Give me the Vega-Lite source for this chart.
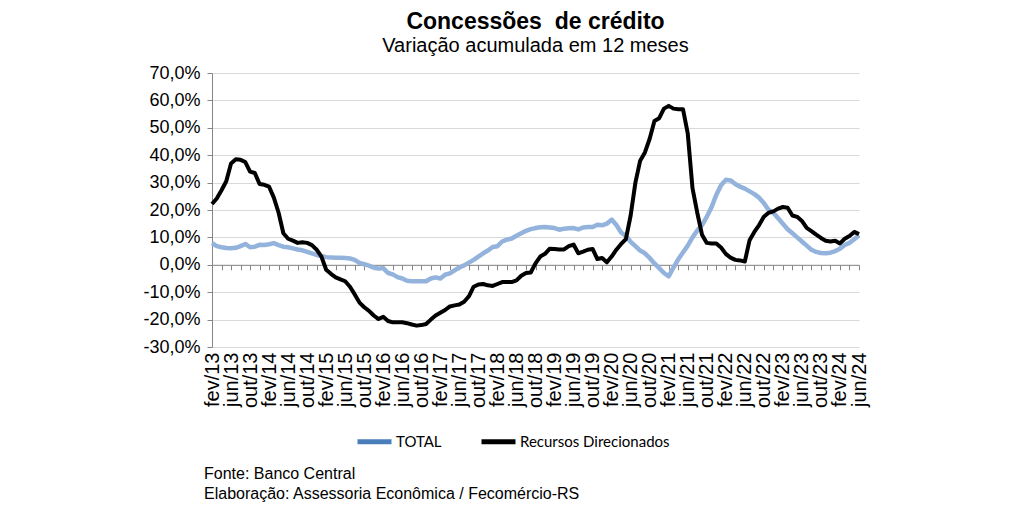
{
 "$schema": "https://vega.github.io/schema/vega-lite/v6.json",
 "background": "white",
 "padding": {"left": 142, "top": 11, "right": 10, "bottom": 5},
 "config": {"view": {"stroke": null}, "font": "Liberation Sans"},
 "title": {"text": ["Fonte: Banco Central", "Elaboração: Assessoria Econômica / Fecomércio-RS"], "orient": "bottom", "anchor": "start", "frame": "group", "fontSize": 16, "fontWeight": "normal", "font": "Liberation Sans", "lineHeight": 20, "color": "black", "offset": 14, "dx": -8},
 "vconcat": [
  {
   "width": 647,
   "height": 274,
   "title": {"text": "Concessões \u00a0de crédito", "subtitle": "Variação acumulada em 12 meses", "fontSize": 23, "subtitleFontSize": 20, "font": "Liberation Sans", "subtitleFont": "Liberation Sans", "fontWeight": "bold", "color": "black", "subtitleColor": "black", "anchor": "middle", "frame": "group", "offset": 8, "subtitlePadding": 2},
   "data": {"values": [
    {"m":"fev/13","TOTAL":7.9,"Recursos Direcionados":22.2},
    {"m":"mar/13","TOTAL":6.8,"Recursos Direcionados":24.2},
    {"m":"abr/13","TOTAL":6.4,"Recursos Direcionados":27.2},
    {"m":"mai/13","TOTAL":6.1,"Recursos Direcionados":30.5},
    {"m":"jun/13","TOTAL":6.0,"Recursos Direcionados":37.0},
    {"m":"jul/13","TOTAL":6.2,"Recursos Direcionados":38.5},
    {"m":"ago/13","TOTAL":6.8,"Recursos Direcionados":38.3},
    {"m":"set/13","TOTAL":7.6,"Recursos Direcionados":37.5},
    {"m":"out/13","TOTAL":6.4,"Recursos Direcionados":34.0},
    {"m":"nov/13","TOTAL":6.6,"Recursos Direcionados":33.5},
    {"m":"dez/13","TOTAL":7.3,"Recursos Direcionados":29.5},
    {"m":"jan/14","TOTAL":7.2,"Recursos Direcionados":29.2},
    {"m":"fev/14","TOTAL":7.5,"Recursos Direcionados":28.5},
    {"m":"mar/14","TOTAL":7.9,"Recursos Direcionados":24.5},
    {"m":"abr/14","TOTAL":7.2,"Recursos Direcionados":19.0},
    {"m":"mai/14","TOTAL":6.6,"Recursos Direcionados":11.5},
    {"m":"jun/14","TOTAL":6.4,"Recursos Direcionados":9.5},
    {"m":"jul/14","TOTAL":6.0,"Recursos Direcionados":8.8},
    {"m":"ago/14","TOTAL":5.6,"Recursos Direcionados":8.0},
    {"m":"set/14","TOTAL":5.3,"Recursos Direcionados":8.2},
    {"m":"out/14","TOTAL":4.7,"Recursos Direcionados":8.0},
    {"m":"nov/14","TOTAL":4.2,"Recursos Direcionados":7.2},
    {"m":"dez/14","TOTAL":3.6,"Recursos Direcionados":5.5},
    {"m":"jan/15","TOTAL":3.2,"Recursos Direcionados":3.0},
    {"m":"fev/15","TOTAL":2.8,"Recursos Direcionados":-1.8},
    {"m":"mar/15","TOTAL":2.7,"Recursos Direcionados":-3.3},
    {"m":"abr/15","TOTAL":2.6,"Recursos Direcionados":-4.6},
    {"m":"mai/15","TOTAL":2.6,"Recursos Direcionados":-5.3},
    {"m":"jun/15","TOTAL":2.5,"Recursos Direcionados":-6.0},
    {"m":"jul/15","TOTAL":2.3,"Recursos Direcionados":-8.0},
    {"m":"ago/15","TOTAL":1.8,"Recursos Direcionados":-10.8},
    {"m":"set/15","TOTAL":0.7,"Recursos Direcionados":-13.8},
    {"m":"out/15","TOTAL":0.2,"Recursos Direcionados":-15.5},
    {"m":"nov/15","TOTAL":-0.3,"Recursos Direcionados":-16.8},
    {"m":"dez/15","TOTAL":-1.0,"Recursos Direcionados":-18.5},
    {"m":"jan/16","TOTAL":-1.4,"Recursos Direcionados":-19.8},
    {"m":"fev/16","TOTAL":-1.2,"Recursos Direcionados":-19.0},
    {"m":"mar/16","TOTAL":-3.0,"Recursos Direcionados":-20.5},
    {"m":"abr/16","TOTAL":-3.5,"Recursos Direcionados":-21.0},
    {"m":"mai/16","TOTAL":-4.5,"Recursos Direcionados":-21.0},
    {"m":"jun/16","TOTAL":-5.0,"Recursos Direcionados":-21.0},
    {"m":"jul/16","TOTAL":-5.8,"Recursos Direcionados":-21.3},
    {"m":"ago/16","TOTAL":-6.0,"Recursos Direcionados":-21.8},
    {"m":"set/16","TOTAL":-6.0,"Recursos Direcionados":-22.2},
    {"m":"out/16","TOTAL":-6.0,"Recursos Direcionados":-22.0},
    {"m":"nov/16","TOTAL":-6.0,"Recursos Direcionados":-21.6},
    {"m":"dez/16","TOTAL":-5.0,"Recursos Direcionados":-20.0},
    {"m":"jan/17","TOTAL":-4.6,"Recursos Direcionados":-18.5},
    {"m":"fev/17","TOTAL":-5.0,"Recursos Direcionados":-17.5},
    {"m":"mar/17","TOTAL":-3.6,"Recursos Direcionados":-16.5},
    {"m":"abr/17","TOTAL":-3.1,"Recursos Direcionados":-15.2},
    {"m":"mai/17","TOTAL":-2.0,"Recursos Direcionados":-14.8},
    {"m":"jun/17","TOTAL":-1.0,"Recursos Direcionados":-14.5},
    {"m":"jul/17","TOTAL":-0.2,"Recursos Direcionados":-13.5},
    {"m":"ago/17","TOTAL":0.8,"Recursos Direcionados":-11.5},
    {"m":"set/17","TOTAL":1.8,"Recursos Direcionados":-8.0},
    {"m":"out/17","TOTAL":3.0,"Recursos Direcionados":-7.2},
    {"m":"nov/17","TOTAL":4.2,"Recursos Direcionados":-7.0},
    {"m":"dez/17","TOTAL":5.2,"Recursos Direcionados":-7.5},
    {"m":"jan/18","TOTAL":6.5,"Recursos Direcionados":-7.7},
    {"m":"fev/18","TOTAL":6.8,"Recursos Direcionados":-7.0},
    {"m":"mar/18","TOTAL":8.5,"Recursos Direcionados":-6.3},
    {"m":"abr/18","TOTAL":9.2,"Recursos Direcionados":-6.3},
    {"m":"mai/18","TOTAL":9.6,"Recursos Direcionados":-6.3},
    {"m":"jun/18","TOTAL":10.6,"Recursos Direcionados":-5.7},
    {"m":"jul/18","TOTAL":11.5,"Recursos Direcionados":-4.0},
    {"m":"ago/18","TOTAL":12.4,"Recursos Direcionados":-3.0},
    {"m":"set/18","TOTAL":13.0,"Recursos Direcionados":-2.8},
    {"m":"out/18","TOTAL":13.4,"Recursos Direcionados":0.5},
    {"m":"nov/18","TOTAL":13.7,"Recursos Direcionados":3.0},
    {"m":"dez/18","TOTAL":13.8,"Recursos Direcionados":4.0},
    {"m":"jan/19","TOTAL":13.6,"Recursos Direcionados":5.9},
    {"m":"fev/19","TOTAL":13.4,"Recursos Direcionados":5.8},
    {"m":"mar/19","TOTAL":12.8,"Recursos Direcionados":5.6},
    {"m":"abr/19","TOTAL":13.2,"Recursos Direcionados":5.6},
    {"m":"mai/19","TOTAL":13.3,"Recursos Direcionados":6.8},
    {"m":"jun/19","TOTAL":13.4,"Recursos Direcionados":7.4},
    {"m":"jul/19","TOTAL":12.9,"Recursos Direcionados":4.2},
    {"m":"ago/19","TOTAL":13.6,"Recursos Direcionados":4.8},
    {"m":"set/19","TOTAL":13.8,"Recursos Direcionados":5.5},
    {"m":"out/19","TOTAL":13.8,"Recursos Direcionados":5.8},
    {"m":"nov/19","TOTAL":14.6,"Recursos Direcionados":2.1},
    {"m":"dez/19","TOTAL":14.4,"Recursos Direcionados":2.5},
    {"m":"jan/20","TOTAL":15.0,"Recursos Direcionados":0.9},
    {"m":"fev/20","TOTAL":16.5,"Recursos Direcionados":3.0},
    {"m":"mar/20","TOTAL":14.5,"Recursos Direcionados":5.5},
    {"m":"abr/20","TOTAL":11.8,"Recursos Direcionados":7.6},
    {"m":"mai/20","TOTAL":10.5,"Recursos Direcionados":9.4},
    {"m":"jun/20","TOTAL":8.4,"Recursos Direcionados":18.0},
    {"m":"jul/20","TOTAL":6.8,"Recursos Direcionados":30.0},
    {"m":"ago/20","TOTAL":5.2,"Recursos Direcionados":38.0},
    {"m":"set/20","TOTAL":4.2,"Recursos Direcionados":41.0},
    {"m":"out/20","TOTAL":2.5,"Recursos Direcionados":46.0},
    {"m":"nov/20","TOTAL":0.5,"Recursos Direcionados":52.5},
    {"m":"dez/20","TOTAL":-1.2,"Recursos Direcionados":53.5},
    {"m":"jan/21","TOTAL":-3.0,"Recursos Direcionados":57.0},
    {"m":"fev/21","TOTAL":-4.2,"Recursos Direcionados":58.0},
    {"m":"mar/21","TOTAL":-1.0,"Recursos Direcionados":57.0},
    {"m":"abr/21","TOTAL":2.0,"Recursos Direcionados":56.8},
    {"m":"mai/21","TOTAL":4.5,"Recursos Direcionados":56.8},
    {"m":"jun/21","TOTAL":7.0,"Recursos Direcionados":48.0},
    {"m":"jul/21","TOTAL":10.0,"Recursos Direcionados":28.0},
    {"m":"ago/21","TOTAL":12.5,"Recursos Direcionados":19.0},
    {"m":"set/21","TOTAL":14.5,"Recursos Direcionados":11.0},
    {"m":"out/21","TOTAL":17.5,"Recursos Direcionados":8.0},
    {"m":"nov/21","TOTAL":21.0,"Recursos Direcionados":7.8},
    {"m":"dez/21","TOTAL":25.5,"Recursos Direcionados":7.8},
    {"m":"jan/22","TOTAL":29.0,"Recursos Direcionados":6.3},
    {"m":"fev/22","TOTAL":31.0,"Recursos Direcionados":4.0},
    {"m":"mar/22","TOTAL":30.8,"Recursos Direcionados":2.6},
    {"m":"abr/22","TOTAL":29.5,"Recursos Direcionados":1.8},
    {"m":"mai/22","TOTAL":28.5,"Recursos Direcionados":1.6},
    {"m":"jun/22","TOTAL":27.8,"Recursos Direcionados":1.2},
    {"m":"jul/22","TOTAL":26.8,"Recursos Direcionados":9.0},
    {"m":"ago/22","TOTAL":25.8,"Recursos Direcionados":12.0},
    {"m":"set/22","TOTAL":24.5,"Recursos Direcionados":14.5},
    {"m":"out/22","TOTAL":22.5,"Recursos Direcionados":17.5},
    {"m":"nov/22","TOTAL":20.0,"Recursos Direcionados":19.0},
    {"m":"dez/22","TOTAL":19.0,"Recursos Direcionados":19.5},
    {"m":"jan/23","TOTAL":17.0,"Recursos Direcionados":20.5},
    {"m":"fev/23","TOTAL":15.0,"Recursos Direcionados":21.1},
    {"m":"mar/23","TOTAL":13.0,"Recursos Direcionados":20.8},
    {"m":"abr/23","TOTAL":11.5,"Recursos Direcionados":18.0},
    {"m":"mai/23","TOTAL":10.0,"Recursos Direcionados":17.5},
    {"m":"jun/23","TOTAL":8.5,"Recursos Direcionados":16.0},
    {"m":"jul/23","TOTAL":7.0,"Recursos Direcionados":13.5},
    {"m":"ago/23","TOTAL":5.5,"Recursos Direcionados":12.3},
    {"m":"set/23","TOTAL":4.7,"Recursos Direcionados":11.0},
    {"m":"out/23","TOTAL":4.3,"Recursos Direcionados":9.8},
    {"m":"nov/23","TOTAL":4.2,"Recursos Direcionados":8.8},
    {"m":"dez/23","TOTAL":4.4,"Recursos Direcionados":8.5},
    {"m":"jan/24","TOTAL":5.0,"Recursos Direcionados":8.8},
    {"m":"fev/24","TOTAL":5.9,"Recursos Direcionados":7.8},
    {"m":"mar/24","TOTAL":7.2,"Recursos Direcionados":9.5},
    {"m":"abr/24","TOTAL":8.0,"Recursos Direcionados":10.5},
    {"m":"mai/24","TOTAL":9.3,"Recursos Direcionados":12.0},
    {"m":"jun/24","TOTAL":10.8,"Recursos Direcionados":11.2}
   ]},
   "transform": [{"fold": ["TOTAL", "Recursos Direcionados"], "as": ["s", "v"]}],
   "resolve": {"axis": {"x": "independent"}},
   "layer": [
    {
     "transform": [{"filter": "datum.s === 'TOTAL'"}],
     "mark": {"type": "line", "strokeWidth": 4.5, "strokeJoin": "round", "stroke": "#93b3dc"},
     "encoding": {
      "x": {"field": "m", "type": "ordinal", "sort": null, "scale": {"type": "point", "padding": 0},
        "axis": {"values": ["fev/13","jun/13","out/13","fev/14","jun/14","out/14","fev/15","jun/15","out/15","fev/16","jun/16","out/16","fev/17","jun/17","out/17","fev/18","jun/18","out/18","fev/19","jun/19","out/19","fev/20","jun/20","out/20","fev/21","jun/21","out/21","fev/22","jun/22","out/22","fev/23","jun/23","out/23","fev/24","jun/24"],
          "labelAngle": -90, "labelFontSize": 20, "labelFont": "Liberation Sans", "labelColor": "black", "ticks": false, "domain": false, "grid": false, "title": null, "labelPadding": 5, "labelOverlap": false}},
      "y": {"field": "v", "type": "quantitative", "scale": {"domain": [-30, 70], "nice": false, "zero": false},
        "axis": {"values": [-30,-20,-10,0,10,20,30,40,50,60,70], "labelOverlap": false, "grid": true, "gridWidth": 1, "labelExpr": "(datum.value < 0 ? '-' : '') + replace(format(abs(datum.value), '.1f'), '.', ',') + '%'", "labelFontSize": 18, "labelFont": "Liberation Sans", "labelColor": "black", "domainColor": "#868686", "tickColor": "#868686", "tickSize": 5, "gridColor": "#d9d9d9", "title": null, "labelPadding": 7}}
     }
    },
    {
     "transform": [{"filter": "datum.s !== 'TOTAL'"}],
     "mark": {"type": "line", "strokeWidth": 4, "strokeJoin": "round"},
     "encoding": {
      "x": {"field": "m", "type": "ordinal", "sort": null, "scale": {"type": "point", "padding": 0},
        "axis": {"orient": "top", "offset": -191.8, "values": ["fev/13","abr/13","jun/13","ago/13","out/13","dez/13","fev/14","abr/14","jun/14","ago/14","out/14","dez/14","fev/15","abr/15","jun/15","ago/15","out/15","dez/15","fev/16","abr/16","jun/16","ago/16","out/16","dez/16","fev/17","abr/17","jun/17","ago/17","out/17","dez/17","fev/18","abr/18","jun/18","ago/18","out/18","dez/18","fev/19","abr/19","jun/19","ago/19","out/19","dez/19","fev/20","abr/20","jun/20","ago/20","out/20","dez/20","fev/21","abr/21","jun/21","ago/21","out/21","dez/21","fev/22","abr/22","jun/22","ago/22","out/22","dez/22","fev/23","abr/23","jun/23","ago/23","out/23","dez/23","fev/24","abr/24","jun/24"],
          "labels": false, "ticks": true, "tickSize": -5, "tickColor": "#868686", "domainColor": "#868686", "grid": false, "title": null}},
      "y": {"field": "v", "type": "quantitative",
        "axis": {"values": [-30,-20,-10,0,10,20,30,40,50,60,70], "labelOverlap": false, "grid": true, "gridWidth": 1, "labelExpr": "(datum.value < 0 ? '-' : '') + replace(format(abs(datum.value), '.1f'), '.', ',') + '%'", "labelFontSize": 18, "labelFont": "Liberation Sans", "labelColor": "black", "domainColor": "#868686", "tickColor": "#868686", "tickSize": 5, "gridColor": "#d9d9d9", "title": null, "labelPadding": 7}},
      "color": {"field": "s", "type": "nominal", "scale": {"domain": ["TOTAL", "Recursos Direcionados"], "range": ["#4a7ebb", "#000000"]},
        "legend": {"orient": "none", "legendX": 143, "legendY": 349, "title": null, "direction": "horizontal", "symbolType": "stroke", "symbolSize": 1156, "symbolStrokeWidth": 5, "labelFontSize": 15, "labelFont": "Lato", "labelColor": "black", "labelOffset": 2, "columnPadding": 29}}
     }
    }
   ]
  }
 ]
}
